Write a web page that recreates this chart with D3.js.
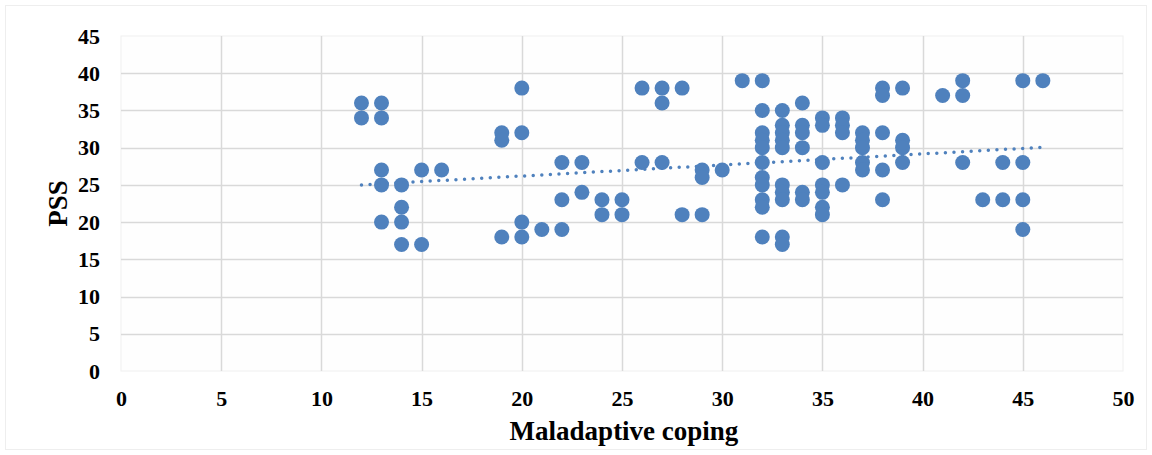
<!DOCTYPE html>
<html>
<head>
<meta charset="utf-8">
<script src="https://cdn.jsdelivr.net/npm/d3@7"></script>
<style>
    body { margin: 0; background: #ffffff; }
    text { font-family: "Liberation Serif", "Times New Roman", serif; font-weight: bold; }
</style>
</head>
<body>
<svg id="drawing_region"></svg>
<script>
// Maladaptive coping score (x) and PSS (y), one entry per point
const copingValues = [
    12, 12,
    13, 13, 13, 13, 13,
    14, 14, 14, 14,
    15, 15,
    16,
    19, 19, 19,
    20, 20, 20, 20,
    21,
    22, 22, 22,
    23, 23,
    24, 24,
    25, 25,
    26, 26,
    27, 27, 27,
    28, 28,
    29, 29, 29,
    30,
    31,
    32, 32, 32, 32, 32, 32, 32, 32, 32, 32, 32,
    33, 33, 33, 33, 33, 33, 33, 33, 33, 33,
    34, 34, 34, 34, 34, 34,
    35, 35, 35, 35, 35, 35, 35,
    36, 36, 36, 36,
    37, 37, 37, 37, 37,
    38, 38, 38, 38, 38,
    39, 39, 39, 39,
    41,
    42, 42, 42,
    43,
    44, 44,
    45, 45, 45, 45,
    46
];
const pssValues = [
    36, 34,
    36, 34, 27, 25, 20,
    25, 22, 20, 17,
    27, 17,
    27,
    32, 31, 18,
    38, 32, 20, 18,
    19,
    28, 23, 19,
    28, 24,
    23, 21,
    23, 21,
    38, 28,
    38, 36, 28,
    38, 21,
    27, 26, 21,
    27,
    39,
    39, 35, 32, 31, 30, 28, 26, 25, 23, 22, 18,
    35, 33, 32, 31, 30, 25, 24, 23, 18, 17,
    36, 33, 32, 30, 24, 23,
    34, 33, 28, 25, 24, 22, 21,
    34, 33, 32, 25,
    32, 31, 30, 28, 27,
    38, 37, 32, 27, 23,
    38, 31, 30, 28,
    37,
    39, 37, 28,
    23,
    28, 23,
    39, 28, 23, 19,
    39
];
// linear trendline (start / end)
const trendX = [12, 46];
const trendY = [25.0, 30.05];

const xTicks = [0, 5, 10, 15, 20, 25, 30, 35, 40, 45, 50];
const yTicks = [0, 5, 10, 15, 20, 25, 30, 35, 40, 45];
const xLabel = "Maladaptive coping";
const yLabel = "PSS";

const data = copingValues.map( (x, i) => ({ x: x, y: pssValues[i] }) );
const trend = trendX.map( (x, i) => ({ x: x, y: trendY[i] }) );

const config = {
    parent: '#drawing_region',
    width: 1152,
    height: 455,
    margin: {top:36, right:29, bottom:84, left:121}
};

const svg = d3.select( config.parent )
    .attr('width', config.width)
    .attr('height', config.height);

// outer chart border
svg.append('rect')
    .attr('x', 5.5).attr('y', 5.5)
    .attr('width', config.width - 11).attr('height', config.height - 11)
    .attr('fill', '#ffffff')
    .attr('stroke', '#eeeeee');

const inner_width = config.width - config.margin.left - config.margin.right;
const inner_height = config.height - config.margin.top - config.margin.bottom;

const chart = svg.append('g')
    .attr('transform', `translate(${config.margin.left}, ${config.margin.top})`);

const xscale = d3.scaleLinear().domain([0, 50]).range([0, inner_width]);
const yscale = d3.scaleLinear().domain([0, 45]).range([inner_height, 0]);

// plot area
chart.append('rect')
    .attr('width', inner_width).attr('height', inner_height)
    .attr('fill', '#fefefe')
    .attr('stroke', '#f0f0f0');

// gridlines
chart.append('g')
    .selectAll('line')
    .data(yTicks.filter(d => d > 0 && d < 45))
    .join('line')
    .attr('x1', 0).attr('x2', inner_width)
    .attr('y1', d => Math.round(yscale(d)) + 0.5)
    .attr('y2', d => Math.round(yscale(d)) + 0.5)
    .attr('stroke', '#d9d9d9')
    .attr('stroke-width', 1.5);

chart.append('g')
    .selectAll('line')
    .data(xTicks.filter(d => d > 0 && d < 50))
    .join('line')
    .attr('y1', 0).attr('y2', inner_height)
    .attr('x1', d => Math.round(xscale(d)) + 0.5)
    .attr('x2', d => Math.round(xscale(d)) + 0.5)
    .attr('stroke', '#d9d9d9')
    .attr('stroke-width', 1.5);

// axes (labels only)
const xaxis = d3.axisBottom(xscale).tickValues(xTicks).tickSize(0).tickPadding(19);
const yaxis = d3.axisLeft(yscale).tickValues(yTicks).tickSize(0).tickPadding(21);

const xaxis_group = chart.append('g')
    .attr('transform', `translate(0, ${inner_height})`)
    .call(xaxis);
const yaxis_group = chart.append('g').call(yaxis);

[xaxis_group, yaxis_group].forEach( g => {
    g.select('.domain').remove();
    g.selectAll('text')
        .attr('fill', '#000000')
        .attr('font-size', '22px')
        .attr('font-family', '"Liberation Serif", "Times New Roman", serif')
        .attr('font-weight', 'bold');
});

// points
chart.append('g')
    .selectAll('circle')
    .data(data)
    .join('circle')
    .attr('cx', d => xscale(d.x))
    .attr('cy', d => yscale(d.y))
    .attr('r', 7.5)
    .attr('fill', '#4f81bd');

// linear trendline (dotted)
const line = d3.line().x(d => xscale(d.x)).y(d => yscale(d.y));
chart.append('path')
    .datum(trend)
    .attr('d', line)
    .attr('fill', 'none')
    .attr('stroke', '#4f81bd')
    .attr('stroke-width', 3.5)
    .attr('stroke-linecap', 'round')
    .attr('stroke-dasharray', '0 8.6');

// axis titles
svg.append('text')
    .attr('x', 624)
    .attr('y', 440)
    .attr('text-anchor', 'middle')
    .attr('font-size', '27px')
    .attr('fill', '#000000')
    .text(xLabel);

svg.append('text')
    .attr('transform', `translate(67, ${config.margin.top + inner_height / 2}) rotate(-90)`)
    .attr('text-anchor', 'middle')
    .attr('font-size', '27px')
    .attr('fill', '#000000')
    .text(yLabel);
</script>
</body>
</html>
